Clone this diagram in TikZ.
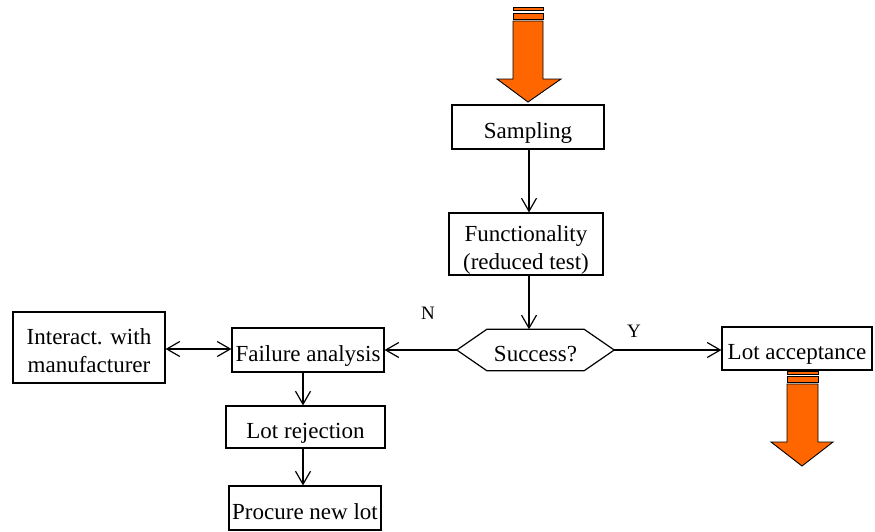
\documentclass[tikz,border=0pt]{standalone}
\usepackage{fontspec}
\setmainfont{Liberation Serif}
\usetikzlibrary{arrows.meta,calc}
\definecolor{flow}{HTML}{FF6600}
% invisible struts that set the vertical placement of the box texts
\newcommand\topstrut{\rule{0pt}{28pt}}
\newcommand\botstrut{\rule[-6pt]{0pt}{6pt}}
\tikzset{
  box/.style={draw, line width=1.2pt, inner sep=0pt, align=center,
    font=\fontsize{23}{28}\selectfont},
  lbl/.style={inner sep=0pt, font=\fontsize{19}{22}\selectfont},
  arr/.style={line width=1.2pt, -{Straight Barb[length=13pt,width=15pt,line width=1.2pt]}},
  dbl/.style={line width=1.2pt, {Straight Barb[length=13pt,width=15pt,line width=1.2pt]}-{Straight Barb[length=13pt,width=15pt,line width=1.2pt]}},
  striped/.style={fill=flow, draw=black, line width=0.9pt, line join=miter}
}
\begin{document}
\begin{tikzpicture}[x=1pt,y=-1pt]
\useasboundingbox (0,0) rectangle (875,531);

% process boxes
\node[box, minimum width=152pt, minimum height=44pt] (samp) at (528,127) {\topstrut Sampling\botstrut};
\node[box, minimum width=154pt, minimum height=62pt] (func) at (526,244) {\topstrut Functionality\\(reduced test)\botstrut};
\node[box, minimum width=152pt, minimum height=44pt] (fail) at (308,350) {\topstrut Failure analysis\botstrut};
\node[box, minimum width=152pt, minimum height=71pt] (inter) at (89,347.5) {\topstrut Interact. with\\manufacturer\botstrut};
\node[box, minimum width=159pt, minimum height=42pt] (rej) at (305.5,427) {\topstrut Lot rejection\botstrut};
\node[box, minimum width=152pt, minimum height=44pt] (proc) at (305,508) {\topstrut Procure new lot\botstrut};
\node[box, minimum width=150pt, minimum height=43pt] (acc) at (797,348.5) {\topstrut Lot acceptance\botstrut};

% decision: hexagon drawn around a frameless node
\node[inner sep=0pt, minimum width=157pt, minimum height=41pt,
      font=\fontsize{23}{28}\selectfont] (dec) at (535.5,350) {\topstrut Success?\botstrut};
\draw[line width=1.2pt, line join=miter]
  (dec.west) -- ($(dec.north west)+(30,0)$) -- ($(dec.north east)+(-30,0)$)
  -- (dec.east) -- ($(dec.south east)+(-30,0)$) -- ($(dec.south west)+(30,0)$) -- cycle;

% connectors
\draw[arr] (samp.south -| 529,0) -- (func.north -| 529,0);
\draw[arr] (func.south -| 529,0) -- (dec.north -| 529,0);
\draw[arr] (dec.east) -- (dec.east -| acc.west);
\draw[arr] (dec.west) -- (dec.west -| fail.east);
\draw[dbl] (inter.east |- 0,349) -- (fail.west |- 0,349);
\draw[arr] (fail.south -| 303,0) -- (rej.north -| 303,0);
\draw[arr] (rej.south -| 303,0) -- (proc.north -| 303,0);

\node[lbl] (ylab) at (634,331) {Y};
\node[lbl] (nlab) at (428,313) {N};

% striped block arrows (inflow and outflow)
\draw[striped] (513,7) rectangle (543,10);
\draw[striped] (513,13) rectangle (543,19);
\draw[striped] (513,21) -- (543,21) -- (543,79) -- (561,79) -- (528,102)
  -- (497,79) -- (513,79) -- cycle;

\draw[striped] (787,371) rectangle (818,374);
\draw[striped] (787,376) rectangle (818,382);
\draw[striped] (787,384) -- (818,384) -- (818,442) -- (833,442) -- (802,466)
  -- (771,442) -- (787,442) -- cycle;
\end{tikzpicture}
\end{document}
